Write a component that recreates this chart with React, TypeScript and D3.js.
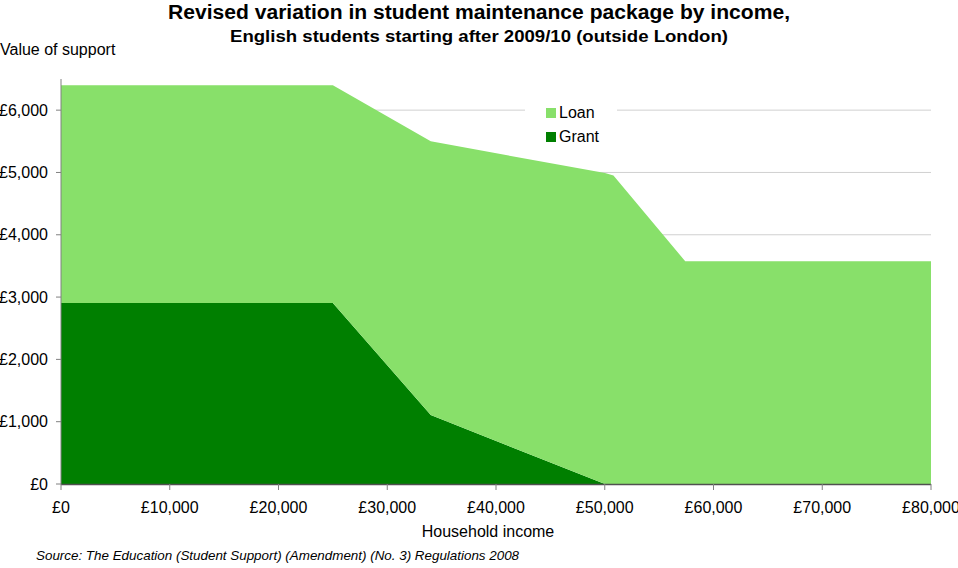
import React from "react";
import * as d3 from "d3";

const income = [0, 25000, 34000, 50020, 50800, 57400, 80000];
const grant = [2906, 2906, 1106, 0, 0, 0, 0];
const loan = [3494, 3494, 4394, 4990, 4950, 3575, 3575];
const xTicks = [0, 10000, 20000, 30000, 40000, 50000, 60000, 70000, 80000];
const yTicks = [0, 1000, 2000, 3000, 4000, 5000, 6000];
const seriesNames = ["Grant", "Loan"];
const colors: Record<string, string> = { Grant: "#007F00", Loan: "#88E06A" };

const W = 958, H = 568;
const FONT = "Liberation Sans, Arial, sans-serif";

export default function App() {
  const x = d3.scaleLinear().domain([0, 80000]).range([61, 931]);
  const y = d3.scaleLinear().domain([0, 6500]).range([484, 79]);
  const rows = income.map((v, i) => ({ income: v, Grant: grant[i], Loan: loan[i] }));
  const stacked = d3.stack<any>().keys(seriesNames)(rows);
  const area = d3
    .area<any>()
    .x((d) => x(d.data.income))
    .y0((d) => y(d[0]))
    .y1((d) => y(d[1]));
  const fmt = (v: number) => "£" + d3.format(",")(v);

  return (
    <svg width={W} height={H} style={{ position: "absolute", left: 0, top: 0, background: "#fff" }} fontFamily={FONT}>
      <rect width={W} height={H} fill="#fff" />
      {yTicks.filter((t) => t > 0).map((t) => (
        <line key={t} x1={61} x2={931} y1={y(t)} y2={y(t)} stroke="#D0D0D0" strokeWidth={1} />
      ))}
      {stacked.map((s) => (
        <path key={s.key} d={area(s) || ""} fill={colors[s.key]} />
      ))}
      <line x1={61} x2={61} y1={79} y2={484} stroke="#808080" strokeWidth={1} />
      <line x1={61} x2={931} y1={484.5} y2={484.5} stroke="#505050" strokeWidth={1.5} />
      {yTicks.map((t) => (
        <g key={t}>
          <line x1={56} x2={61} y1={y(t)} y2={y(t)} stroke="#808080" />
          <text x={48} y={y(t)} dy="0.35em" textAnchor="end" fontSize={16} fill="#000">{fmt(t)}</text>
        </g>
      ))}
      {xTicks.map((t) => (
        <g key={t}>
          <line x1={x(t)} x2={x(t)} y1={484} y2={490} stroke="#808080" />
          <text x={x(t)} y={513} textAnchor="middle" fontSize={16} fill="#000">{fmt(t)}</text>
        </g>
      ))}
      <text x={479} y={18.5} textAnchor="middle" fontSize={20} fontWeight="bold" textLength={622} lengthAdjust="spacingAndGlyphs">Revised variation in student maintenance package by income,</text>
      <text x={479} y={41.5} textAnchor="middle" fontSize={17} fontWeight="bold" textLength={498} lengthAdjust="spacingAndGlyphs">English students starting after 2009/10 (outside London)</text>
      <text x={0} y={55} fontSize={16}>Value of support</text>
      <text x={488} y={537} textAnchor="middle" fontSize={16}>Household income</text>
      <text x={36} y={560} fontSize={13.4} fontStyle="italic">Source: The Education (Student Support) (Amendment) (No. 3) Regulations 2008</text>
      <rect x={525} y={100} width={92} height={44} fill="#fff" />
      {["Loan", "Grant"].map((k, i) => (
        <g key={k}>
          <rect x={546} y={108 + i * 24} width={10} height={10} fill={colors[k]} />
          <text x={559} y={118 + i * 24} fontSize={16}>{k}</text>
        </g>
      ))}
    </svg>
  );
}
